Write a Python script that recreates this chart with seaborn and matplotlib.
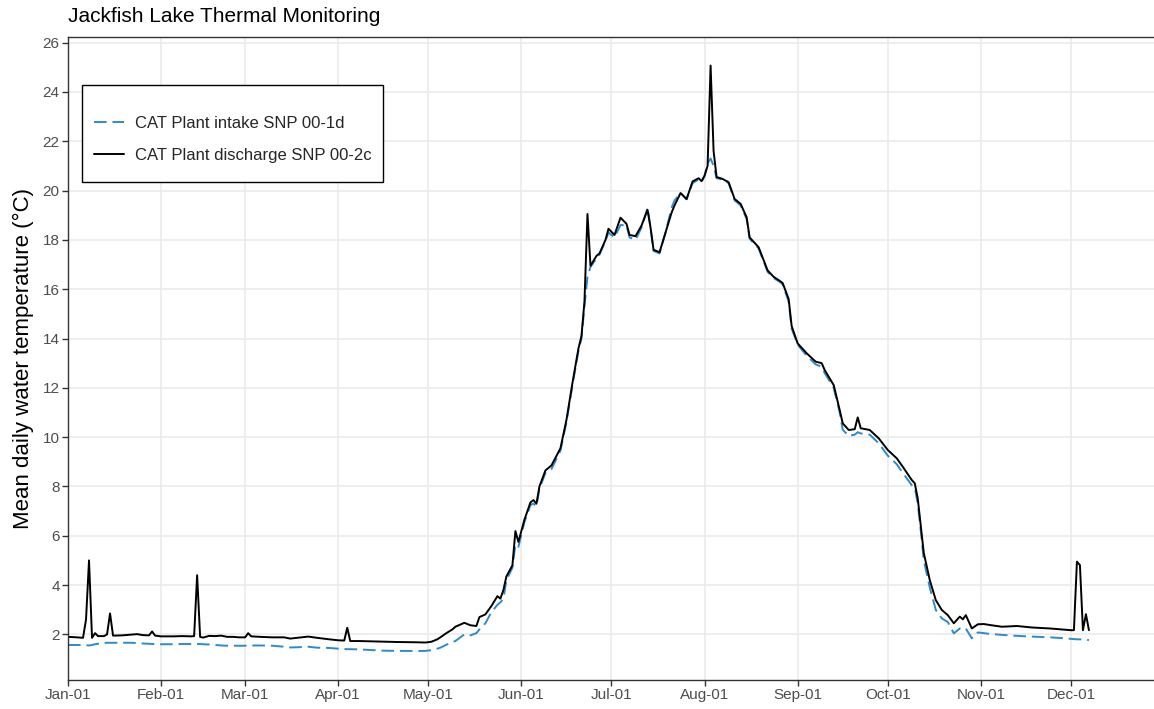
import matplotlib
matplotlib.use("Agg")
import matplotlib.pyplot as plt
import matplotlib.dates as mdates
from matplotlib.patches import Rectangle
import pandas as pd
import seaborn as sns

# days since Jan-01
day_of_year = [0, 3, 5, 6, 7, 8, 9, 10, 12, 13, 14, 15, 18, 21, 23, 25, 27, 28, 29, 31,
               35, 38, 41, 42, 43, 44, 45, 47, 49, 51, 53, 55, 57, 59, 60, 61, 64, 68, 72, 74,
               77, 80, 83, 87, 90, 92, 93, 94, 97, 100, 105, 110, 116, 119, 121, 123, 124, 126, 128, 129,
               132, 134, 136, 137, 139, 141, 143, 144, 145, 146, 148, 149, 150, 152, 154, 155, 156, 157, 159, 161,
               164, 166, 168, 170, 171, 172, 173, 174, 176, 177, 179, 180, 182, 184, 186, 187, 189, 191, 193, 194,
               195, 197, 199, 201, 202, 204, 206, 208, 210, 211, 212, 213, 214, 215, 216, 218, 220, 222, 224, 226,
               227, 230, 233, 235, 237, 238, 240, 241, 243, 246, 249, 251, 252, 255, 257, 258, 260, 262, 263, 264,
               267, 270, 273, 276, 278, 281, 282, 283, 284, 285, 287, 289, 291, 293, 295, 297, 298, 299, 301, 303,
               305, 307, 311, 316, 321, 327, 331, 334, 335, 336, 337, 338, 339, 340]

discharge = [1.90, 1.88, 1.86, 2.60, 5.00, 1.86, 2.05, 1.93, 1.93, 2.00, 2.85, 1.95, 1.96, 1.99, 2.01, 1.97, 1.96, 2.12, 1.95, 1.92,
             1.92, 1.93, 1.92, 1.93, 4.40, 1.90, 1.87, 1.94, 1.93, 1.95, 1.90, 1.90, 1.88, 1.88, 2.05, 1.92, 1.90, 1.88, 1.88, 1.83,
             1.87, 1.91, 1.86, 1.80, 1.76, 1.75, 2.27, 1.73, 1.73, 1.72, 1.70, 1.69, 1.68, 1.67, 1.70, 1.80, 1.88, 2.05, 2.20, 2.31,
             2.47, 2.37, 2.34, 2.70, 2.81, 3.15, 3.55, 3.45, 3.80, 4.35, 4.80, 6.19, 5.75, 6.65, 7.35, 7.45, 7.30, 8.00, 8.65, 8.85,
             9.55, 10.70, 12.20, 13.60, 14.10, 15.50, 19.05, 16.95, 17.35, 17.45, 18.00, 18.45, 18.20, 18.90, 18.65, 18.20, 18.15, 18.58, 19.22, 18.50,
             17.60, 17.50, 18.30, 19.10, 19.40, 19.90, 19.65, 20.37, 20.50, 20.38, 20.60, 21.00, 25.07, 21.60, 20.55, 20.47, 20.34, 19.66, 19.46, 18.92,
             18.10, 17.70, 16.76, 16.50, 16.34, 16.25, 15.60, 14.50, 13.80, 13.40, 13.06, 13.00, 12.72, 12.11, 11.10, 10.56, 10.29, 10.32, 10.80, 10.36,
             10.29, 9.95, 9.48, 9.14, 8.80, 8.26, 8.13, 7.50, 6.40, 5.30, 4.20, 3.39, 2.99, 2.78, 2.45, 2.72, 2.61, 2.78, 2.24, 2.41,
             2.42, 2.38, 2.31, 2.34, 2.28, 2.24, 2.20, 2.17, 2.17, 4.95, 4.81, 2.17, 2.82, 2.17]

intake = [1.57, 1.57, 1.57, 1.56, 1.55, 1.57, 1.60, 1.62, 1.65, 1.66, 1.66, 1.66, 1.66, 1.66, 1.65, 1.63, 1.62, 1.61, 1.60, 1.60,
          1.60, 1.61, 1.61, 1.61, 1.61, 1.61, 1.60, 1.59, 1.57, 1.55, 1.54, 1.54, 1.54, 1.54, 1.54, 1.55, 1.55, 1.54, 1.50, 1.47,
          1.48, 1.50, 1.46, 1.45, 1.42, 1.41, 1.40, 1.40, 1.39, 1.37, 1.34, 1.33, 1.33, 1.33, 1.36, 1.42, 1.46, 1.58, 1.68, 1.73,
          2.00, 1.96, 2.05, 2.20, 2.45, 2.90, 3.20, 3.30, 3.45, 4.20, 4.70, 5.65, 5.55, 6.55, 7.25, 7.30, 7.20, 7.90, 8.55, 8.70,
          9.45, 10.60, 12.10, 13.50, 14.00, 15.30, 16.50, 16.90, 17.25, 17.40, 17.95, 18.30, 18.10, 18.60, 18.60, 18.10, 18.00, 18.50, 19.30, 18.50,
          17.55, 17.45, 18.30, 19.30, 19.60, 19.90, 19.65, 20.30, 20.45, 20.35, 20.60, 21.10, 21.30, 21.00, 20.50, 20.45, 20.30, 19.60, 19.40, 18.85,
          18.05, 17.65, 16.70, 16.45, 16.30, 16.20, 15.50, 14.40, 13.75, 13.30, 12.95, 12.85, 12.60, 12.00, 11.00, 10.30, 10.05, 10.10, 10.20, 10.15,
          10.10, 9.75, 9.25, 8.90, 8.55, 8.05, 7.95, 7.30, 6.20, 5.00, 3.90, 2.99, 2.65, 2.50, 2.04, 2.24, 2.20, 2.24, 1.84, 2.08,
          2.05, 2.02, 1.98, 1.94, 1.91, 1.88, 1.85, 1.82, 1.81, 1.80, 1.80, 1.79, 1.78, 1.77]

site_names = ["CAT Plant intake SNP 00-1d", "CAT Plant discharge SNP 00-2c"]
site_colors = ["#2a8ccf", "black"]

dates = pd.Timestamp("2019-01-01") + pd.to_timedelta(day_of_year, unit="D")
df = pd.concat([
    pd.DataFrame({"date": dates, "temp": intake, "site": site_names[0]}),
    pd.DataFrame({"date": dates, "temp": discharge, "site": site_names[1]}),
])

sns.set_style("whitegrid", {"grid.color": "#EBEBEB", "axes.edgecolor": "#333333"})
plt.rcParams["font.family"] = ["Liberation Sans", "DejaVu Sans"]

fig = plt.figure(figsize=(11.54, 7.09), dpi=100)
ax = fig.add_axes([68 / 1154, 29 / 709, 1093 / 1154, 643.3 / 709])

sns.lineplot(data=df, x="date", y="temp", hue="site", style="site",
             hue_order=site_names, style_order=site_names,
             palette=dict(zip(site_names, site_colors)),
             dashes={site_names[0]: (6.5, 3), site_names[1]: ""},
             linewidth=1.4, ax=ax)

ax.set_xlim(pd.Timestamp("2019-01-01"), pd.Timestamp("2019-12-31"))
ax.set_ylim(0.15, 26.24)
ax.set_yticks(range(2, 27, 2))
ax.set_xticks(pd.date_range("2019-01-01", "2019-12-01", freq="MS"))
ax.xaxis.set_major_formatter(mdates.DateFormatter("%b-%d"))
ax.grid(True, color="#EBEBEB", linewidth=1.2)
ax.set_axisbelow(True)
for s in ax.spines.values():
    s.set_color("#333333")
    s.set_linewidth(1.0)

ax.tick_params(axis="both", which="major", length=4, width=1, color="#333333",
               labelcolor="#4D4D4D", labelsize=11, pad=2, bottom=True, left=True)
ax.set_xlabel("")
ax.set_ylabel("Mean daily water temperature (°C)", fontsize=16, color="black", labelpad=6)
fig.text(68 / 1154, 1 - 16 / 709, "Jackfish Lake Thermal Monitoring", fontsize=15,
         ha="left", va="center", color="black")

# legend box drawn separately so the empty title space on top can be matched
box = Rectangle((82 / 1154, 1 - 182 / 709), 301 / 1154, 97 / 709, transform=fig.transFigure,
                facecolor="white", edgecolor="black", linewidth=1.0, zorder=4, clip_on=False)
ax.add_patch(box)

handles, labels = ax.get_legend_handles_labels()
leg = ax.legend(handles, labels, loc="upper left", bbox_to_anchor=(0.0128, 0.895),
                borderaxespad=0, fontsize=12, frameon=False,
                handlelength=1.8, handletextpad=0.7, borderpad=0.7, labelspacing=1.02)
leg.set_zorder(5)

fig.savefig("out.png", dpi=100)
